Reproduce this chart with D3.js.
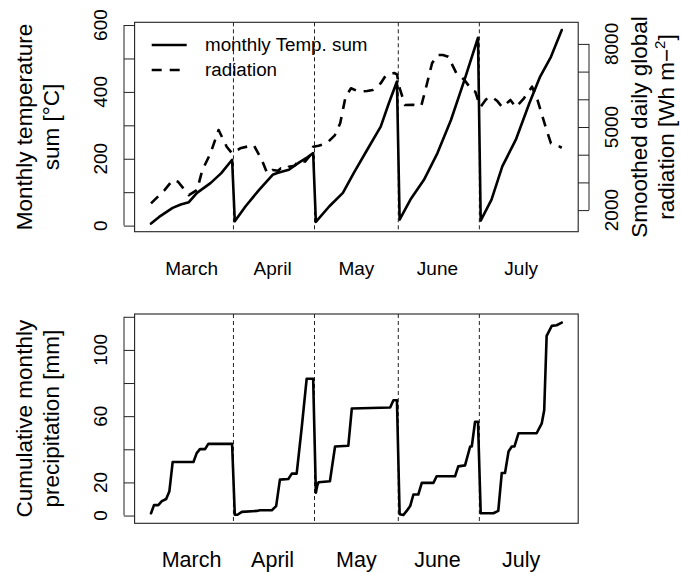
<!DOCTYPE html>
<html><head><meta charset="utf-8">
<script src="https://cdn.jsdelivr.net/npm/d3@7"></script>
<style>
body{margin:0;background:#fff}
svg{display:block}
text{font-family:"Liberation Sans", Arial, Helvetica, sans-serif; fill:#000}
</style>
</head><body>
<svg id="c" width="681" height="572"></svg>
<script>
// ---------------- data (day 0 = 1 March) ----------------
const months = ["March","April","May","June","July"];
const monthMid = [15,45,76,106,137];
const monthBreaks = [30.5,60.5,91.5,121.5];

const tempDay = [0,3,8,11,14,17,22,26,30, 31,35,40,45,47,51,55,58,60, 61,66,71,75,80,85,88,91, 92,96,101,106,111,116,121, 122,126,130,135,140,144,148,152];
const tempVal = [6,26,53,63,70,98,127,157,197, 13,58,107,152,158,167,190,205,217, 11,58,98,157,227,296,366,431, 18,78,137,217,316,436,562, 15,78,177,257,366,446,505,585];

const radDay = [0,5,8,10,14,17,19,22,25,28,30,33,38,41,43,45,47,48,50,51,53,55,57,59,60,62,65,68,70,72,74,77,80,82,85,87,90,91,92,94,97,100,102,104,106,108,110,113,116,119,120,121,122,124,126,128,130,133,135,138,141,143,146,148,150,152];
const radVal = [2242,2723,3084,3023,2542,2723,3446,4049,4891,4288,4049,4230,4349,3807,3326,3450,3420,3507,3480,3565,3600,3807,3750,3988,4288,4320,4411,4700,5133,6095,6398,6275,6300,6337,6578,6879,6950,6900,6400,5795,5800,5759,6517,7302,7600,7602,7540,6940,6698,6300,6275,5975,5733,6000,6095,5950,5713,5975,5713,6037,6456,5975,5010,4411,4349,4252];

const precDay = [0,1.1,2.7,4,5.6,6.8,8,15.7,16.9,18.1,20,21.2,30,
  31,32,33.6,39.1,40.3,44.7,46.3,47.7,50.8,52.1,53.9,55.8,57.6,60,
  61,61.5,62,66.2,68.1,73,74.3,88.5,89.7,91,
  92,93.4,94.6,95.9,97.1,98.9,100.2,104.5,105.7,112.5,113.7,116.2,118.1,118.7,119.9,121,
  122,126.7,128.5,129.8,131,132.3,133.5,134.5,136,142.7,144.6,145.5,146.4,148.3,150.1,152];
const precVal = [1.4,6.3,6.3,8.7,10,14.7,32.3,32.3,37.7,40.1,40.1,43.3,43.3,
  0.5,0.5,2.2,2.8,3.2,3.2,5.7,21.7,22.1,25.3,25.3,53.6,82.6,82.6,
  13.8,18,20.1,20.7,41.7,42.1,64.6,65.2,69.6,69.6,
  0.8,0.3,2.8,5.7,12.7,12.7,19.7,19.7,23.7,23.7,29.7,30.3,41.7,41.7,56.6,56.6,
  1.4,1.4,2.8,25.7,25.7,38.7,41.7,41.7,49.7,49.7,55.7,63.6,108.5,114.5,114.9,116.5];

const tempTicks = [0,100,200,300,400,500,600];
const tempLabels = [0,200,400,600];
const radTicks = [2000,3000,4000,5000,6000,7000,8000];
const radLabels = [2000,5000,8000];
const precTicks = [0,20,40,60,80,100,120];
const precLabels = [0,20,60,100];

// ---------------- layout ----------------
const svg = d3.select("#c");
const P1 = {top:22.3, bottom:231.7};
const P2 = {top:314, bottom:523.3};
const XL = 134.6, XR = 578.2;

const x = d3.scaleLinear().domain([-6.08,158.08]).range([XL,XR]);
const yT = d3.scaleLinear().domain([-18.2,608.2]).range([P1.bottom,P1.top]);
const yR = d3.scaleLinear().domain([1220,8780]).range([P1.bottom,P1.top]);
const yP = d3.scaleLinear().domain([-4.68,121.68]).range([P2.bottom,P2.top]);

const FONT_TICK = 19, FONT_TITLE = 22.5;

function box(p){
  svg.append("rect").attr("x",XL).attr("y",p.top).attr("width",XR-XL).attr("height",p.bottom-p.top)
    .attr("fill","none").attr("stroke","#222").attr("stroke-width",1.1);
}
function breaks(p){
  svg.append("g").selectAll("line").data(monthBreaks).join("line")
    .attr("x1",d=>x(d)).attr("x2",d=>x(d)).attr("y1",p.top).attr("y2",p.bottom)
    .attr("stroke","#222").attr("stroke-width",1).attr("stroke-dasharray","4,3");
}
function leftAxis(scale, ticks, labels){
  const g = svg.append("g").attr("transform","translate(124,0)")
    .call(d3.axisRight(scale).tickValues(ticks).tickSize(XL-124).tickFormat(""));
  g.select(".domain").remove();
  g.selectAll("line").attr("stroke","#222").attr("stroke-width",1);
  svg.append("line").attr("x1",124).attr("x2",124)
    .attr("y1",scale(ticks[0])).attr("y2",scale(ticks[ticks.length-1]))
    .attr("stroke","#222").attr("stroke-width",1);
  svg.append("g").selectAll("text").data(labels).join("text")
    .attr("transform",d=>`translate(107,${scale(d)}) rotate(-90)`)
    .attr("text-anchor","middle").attr("font-size",FONT_TICK).text(d=>d);
}
function rightAxis(scale, ticks, labels){
  const AX = 589;
  const g = svg.append("g").attr("transform",`translate(${AX},0)`)
    .call(d3.axisLeft(scale).tickValues(ticks).tickSize(AX-XR).tickFormat(""));
  g.select(".domain").remove();
  g.selectAll("line").attr("stroke","#222").attr("stroke-width",1);
  svg.append("line").attr("x1",AX).attr("x2",AX)
    .attr("y1",scale(ticks[0])).attr("y2",scale(ticks[ticks.length-1]))
    .attr("stroke","#222").attr("stroke-width",1);
  svg.append("g").selectAll("text").data(labels).join("text")
    .attr("transform",d=>`translate(618,${scale(d)}) rotate(-90)`)
    .attr("text-anchor","middle").attr("font-size",FONT_TICK).text(d=>d);
}
function vtitle(bx, cy, str){
  return svg.append("text").attr("transform",`translate(${bx},${cy}) rotate(-90)`)
    .attr("text-anchor","middle").attr("font-size",FONT_TITLE).text(str);
}
function monthLabels(y, fs){
  svg.append("g").selectAll("text").data(months).join("text")
    .attr("x",(d,i)=>x(monthMid[i])).attr("y",y)
    .attr("text-anchor","middle").attr("font-size",fs).text(d=>d);
}

// ---------------- top panel ----------------
breaks(P1);
const tempData = tempDay.map((d,i)=>[d,tempVal[i]]);
const radData = radDay.map((d,i)=>[d,radVal[i]]);
svg.append("path").datum(radData)
  .attr("d",d3.line().x(d=>x(d[0])).y(d=>yR(d[1])))
  .attr("fill","none").attr("stroke","#000").attr("stroke-width",2.6)
  .attr("stroke-dasharray","10,8").attr("stroke-linejoin","round");
svg.append("path").datum(tempData)
  .attr("d",d3.line().x(d=>x(d[0])).y(d=>yT(d[1])))
  .attr("fill","none").attr("stroke","#000").attr("stroke-width",2.6)
  .attr("stroke-linejoin","round").attr("stroke-linecap","round");
box(P1);
leftAxis(yT, tempTicks, tempLabels);
rightAxis(yR, radTicks, radLabels);
vtitle(31.5, (P1.top+P1.bottom)/2, "Monthly temperature");
vtitle(58.5, (P1.top+P1.bottom)/2, "sum [°C]");
vtitle(647, (P1.top+P1.bottom)/2, "Smoothed daily global");
const t2 = vtitle(674, (P1.top+P1.bottom)/2, "");
t2.append("tspan").text("radiation [Wh m\u2212");
t2.append("tspan").attr("font-size",15).attr("dy",-9).text("2");
t2.append("tspan").attr("dy",9).text("]");
monthLabels(275, 19);

// legend
svg.append("line").attr("x1",151.7).attr("x2",186.7).attr("y1",45).attr("y2",45)
  .attr("stroke","#000").attr("stroke-width",2.6);
svg.append("line").attr("x1",151.7).attr("x2",186.7).attr("y1",70).attr("y2",70)
  .attr("stroke","#000").attr("stroke-width",2.6).attr("stroke-dasharray","10,8");
svg.append("text").attr("x",205).attr("y",51).attr("font-size",18.8).text("monthly Temp. sum");
svg.append("text").attr("x",205).attr("y",76).attr("font-size",18.8).text("radiation");

// ---------------- bottom panel ----------------
breaks(P2);
const precData = precDay.map((d,i)=>[d,precVal[i]]);
svg.append("path").datum(precData)
  .attr("d",d3.line().x(d=>x(d[0])).y(d=>yP(d[1])))
  .attr("fill","none").attr("stroke","#000").attr("stroke-width",2.6)
  .attr("stroke-linejoin","round").attr("stroke-linecap","round");
box(P2);
leftAxis(yP, precTicks, precLabels);
vtitle(31.5, (P2.top+P2.bottom)/2, "Cumulative monthly");
vtitle(58.5, (P2.top+P2.bottom)/2, "precipitation [mm]");
monthLabels(567, 21.5);
</script>
</body></html>
